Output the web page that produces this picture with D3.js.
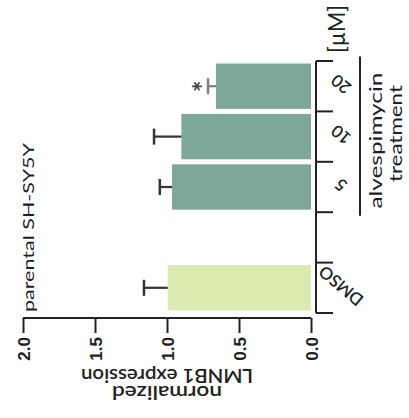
<!DOCTYPE html>
<html><head><meta charset="utf-8">
<script src="https://cdn.jsdelivr.net/npm/d3@7"></script>
<style>html,body{margin:0;padding:0;background:#fff;} svg{display:block;font-family:Lato,"Open Sans",sans-serif;}</style>
</head><body>
<script>
// ---- data ----
const categories = ["20", "10", "5", "", "DMSO"];      // top to bottom ("" = spacer slot)
const means      = [0.66, 0.90, 0.965, null, 0.995];
const errors     = [0.055, 0.19, 0.085, null, 0.165];
const significance = ["*", "", "", "", ""];
const valueTicks = [0, 0.5, 1.0, 1.5, 2.0];
const valueTickLabels = ["0.0", "0.5", "1.0", "1.5", "2.0"];
const axisTitle = ["normalized", "LMNB1 expression"];
const title = "parental SH-SY5Y";
const groupLabel = ["alvespimycin", "treatment"];
const unitLabel = "[µM]";

const W = 409, H = 418;
const svg = d3.select("body").append("svg").attr("width", W).attr("height", H);

const x = d3.scaleLinear().domain([0, 2]).range([311, 23]);
const y = d3.scaleBand().domain(categories).range([61, 313]).paddingInner(0.1).paddingOuter(0.05);

const ink = "#222";
const barColor = c => c === "DMSO" ? "#dceab2" : "#7da898";
const errColor = c => c === "20" ? "#7d7d7d" : "#333";

const rows = categories.map((c, i) => ({c, m: means[i], e: errors[i], s: significance[i]})).filter(d => d.m != null);

// bars
svg.selectAll("rect.bar").data(rows).enter().append("rect")
  .attr("x", d => x(d.m)).attr("width", d => x(0) - x(d.m))
  .attr("y", d => y(d.c)).attr("height", y.bandwidth())
  .attr("fill", d => barColor(d.c));

// error bars
const eg = svg.selectAll("g.err").data(rows).enter().append("g");
eg.append("line").attr("x1", d => x(d.m)).attr("x2", d => x(d.m + d.e))
  .attr("y1", d => y(d.c) + y.bandwidth()/2).attr("y2", d => y(d.c) + y.bandwidth()/2)
  .attr("stroke", d => errColor(d.c)).attr("stroke-width", 2.2);
eg.append("line").attr("x1", d => x(d.m + d.e)).attr("x2", d => x(d.m + d.e))
  .attr("y1", d => y(d.c) + y.bandwidth()/2 - 8).attr("y2", d => y(d.c) + y.bandwidth()/2 + 8)
  .attr("stroke", d => errColor(d.c)).attr("stroke-width", 2.5);

// significance
svg.selectAll("text.sig").data(rows.filter(d => d.s)).enter().append("text")
  .attr("transform", d => `translate(${x(d.m + d.e) - 11},${y(d.c) + y.bandwidth()/2}) rotate(-90)`)
  .attr("text-anchor", "middle").attr("dy", "0.57em")
  .attr("font-size", 28).attr("font-weight", "bold").attr("fill", "#444").text(d => d.s);

// value axis (bottom)
const ax = d3.axisBottom(x).tickValues(valueTicks).tickSize(15).tickFormat((d, i) => valueTickLabels[i]);
const gx = svg.append("g").attr("transform", "translate(0,318)").call(ax);
gx.select(".domain").attr("stroke", ink).attr("stroke-width", 2).attr("d", `M${x(2)},0H${x(0)}`);
gx.selectAll(".tick line").attr("stroke", ink).attr("stroke-width", 2);
gx.selectAll(".tick text").attr("font-size", 17).attr("font-weight", 600).attr("fill", ink)
  .attr("text-anchor", "end").attr("y", 0).attr("dy", "0.36em")
  .attr("transform", "translate(0,19) rotate(-90)");
gx.selectAll(".tick text").attr("x", 0);

// category axis (right side, Prism-style boundary ticks)
const bounds = d3.range(categories.length + 1).map(i => 61 + i * y.step());
const gy = svg.append("g");
gy.append("line").attr("x1", 316).attr("x2", 316).attr("y1", 61).attr("y2", 313).attr("stroke", ink).attr("stroke-width", 2);
gy.selectAll("line.t").data(bounds).enter().append("line")
  .attr("x1", 316).attr("x2", 333).attr("y1", d => d).attr("y2", d => d).attr("stroke", ink).attr("stroke-width", 2);
gy.selectAll("text").data(categories.filter(c => c)).enter().append("text")
  .attr("transform", c => `translate(341,${y(c) + y.bandwidth()/2 - 2}) rotate(-140)`)
  .attr("text-anchor", "middle").attr("dy", "0.36em").attr("font-size", 17).attr("font-weight", 600).attr("fill", ink).text(c => c);

// axis title (upside down)
svg.append("text").attr("transform", "translate(167,386) rotate(180)")
  .attr("text-anchor", "middle").attr("font-size", 20).attr("font-weight", 600).attr("fill", ink)
  .attr("textLength", 110).attr("lengthAdjust", "spacingAndGlyphs").text(axisTitle[0]);
svg.append("text").attr("transform", "translate(167,369) rotate(180)")
  .attr("text-anchor", "middle").attr("font-size", 20).attr("font-weight", 600).attr("fill", ink)
  .attr("textLength", 172).attr("lengthAdjust", "spacingAndGlyphs").text(axisTitle[1]);

// title
svg.append("text").attr("transform", "translate(34,312) rotate(-90)")
  .attr("text-anchor", "start").attr("font-size", 16).attr("fill", "#1c1c2a")
  .attr("textLength", 169).attr("lengthAdjust", "spacingAndGlyphs").text(title);

// unit label
svg.append("text").attr("transform", "translate(345,53) rotate(-90)")
  .attr("text-anchor", "start").attr("font-size", 23).attr("fill", ink)
  .attr("textLength", 48).attr("lengthAdjust", "spacingAndGlyphs").text(unitLabel);

// group bracket + label
const gTop = y("20"), gBot = y("5") + y.bandwidth();
svg.append("line").attr("x1", 360).attr("x2", 360).attr("y1", gTop - 7).attr("y2", gBot + 6)
  .attr("stroke", ink).attr("stroke-width", 2);
svg.append("text").attr("transform", `translate(382,${(gTop + gBot)/2 + 4}) rotate(-90)`)
  .attr("text-anchor", "middle").attr("font-size", 17).attr("fill", "#1c1c2a")
  .attr("textLength", 136).attr("lengthAdjust", "spacingAndGlyphs").text(groupLabel[0]);
svg.append("text").attr("transform", `translate(402,${(gTop + gBot)/2 - 3}) rotate(-90)`)
  .attr("text-anchor", "middle").attr("font-size", 17).attr("fill", "#1c1c2a")
  .attr("textLength", 97).attr("lengthAdjust", "spacingAndGlyphs").text(groupLabel[1]);
</script>
</body></html>
